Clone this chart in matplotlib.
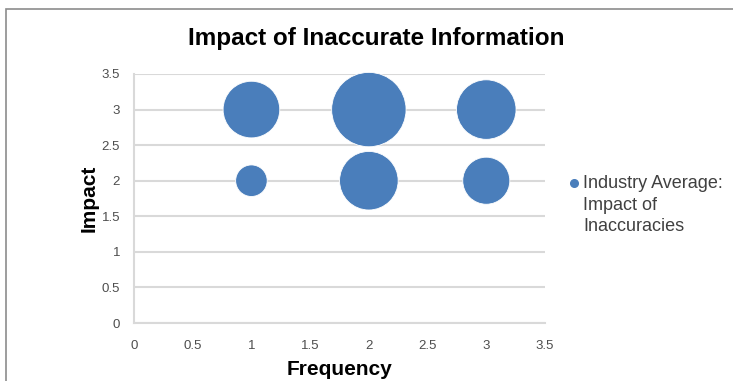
import matplotlib.pyplot as plt
from matplotlib.patches import Rectangle
from matplotlib.lines import Line2D

# bubble chart data
frequency = [1, 2, 3, 1, 2, 3]
impact = [3, 3, 3, 2, 2, 2]
bubble_size = [2.9, 5.0, 3.2, 0.9, 3.1, 2.0]

ticks = [0, 0.5, 1, 1.5, 2, 2.5, 3, 3.5]
tick_labels = ["0", "0.5", "1", "1.5", "2", "2.5", "3", "3.5"]
series_name = "Industry Average:\nImpact of\nInaccuracies"

blue = '#4a7ebb'
grid_c = '#d9d9d9'
txt_c = '#4d4d4d'

plt.rcParams['font.family'] = ['Liberation Sans', 'DejaVu Sans']

fig = plt.figure(figsize=(7.33, 3.81), dpi=100)
# outer chart frame (only top/left edges fall inside the image)
fig.patches.append(Rectangle((6 / 733, -0.1), 1.2, 1 - 9 / 381 + 0.1,
                             transform=fig.transFigure, fill=False,
                             ec='#8c8c8c', lw=1.2))

ax = fig.add_axes([134 / 733, 1 - 323 / 381, 411 / 733, 249 / 381])
scale = 574.0  # points^2 per unit of bubble size
ax.scatter(frequency, impact, s=[v * scale for v in bubble_size],
           color=blue, edgecolors='white', linewidths=0.6, zorder=3,
           clip_on=False)

ax.set_xlim(0, 3.5)
ax.set_ylim(0, 3.5)
ax.set_xticks(ticks)
ax.set_xticklabels(tick_labels)
ax.set_yticks(ticks)
ax.set_yticklabels(tick_labels)
ax.tick_params(length=0, labelsize=9.5, colors=txt_c, pad=10)
ax.tick_params(axis='x', pad=12)
ax.grid(axis='y', color=grid_c, lw=1.5, zorder=0)
for s in ['top', 'right']:
    ax.spines[s].set_visible(False)
for s in ['left', 'bottom']:
    ax.spines[s].set_color(grid_c)
    ax.spines[s].set_linewidth(1.5)

ax.set_xlabel("Frequency", fontsize=15, fontweight='bold', labelpad=6)
ax.set_ylabel("Impact", fontsize=15, fontweight='bold', labelpad=2)

fig.text(376 / 733, 1 - 39 / 381, "Impact of Inaccurate Information",
         fontsize=17.5, fontweight='bold', ha='center', va='center')

# legend entry
fig.lines.append(Line2D([574 / 733], [1 - 183 / 381], transform=fig.transFigure,
                        marker='o', ms=5.5, color=blue, ls='none'))
fig.text(583 / 733, 1 - 175 / 381, series_name, fontsize=13, color='#404040',
         ha='left', va='top', linespacing=1.36)

fig.savefig("out.png", dpi=100)
